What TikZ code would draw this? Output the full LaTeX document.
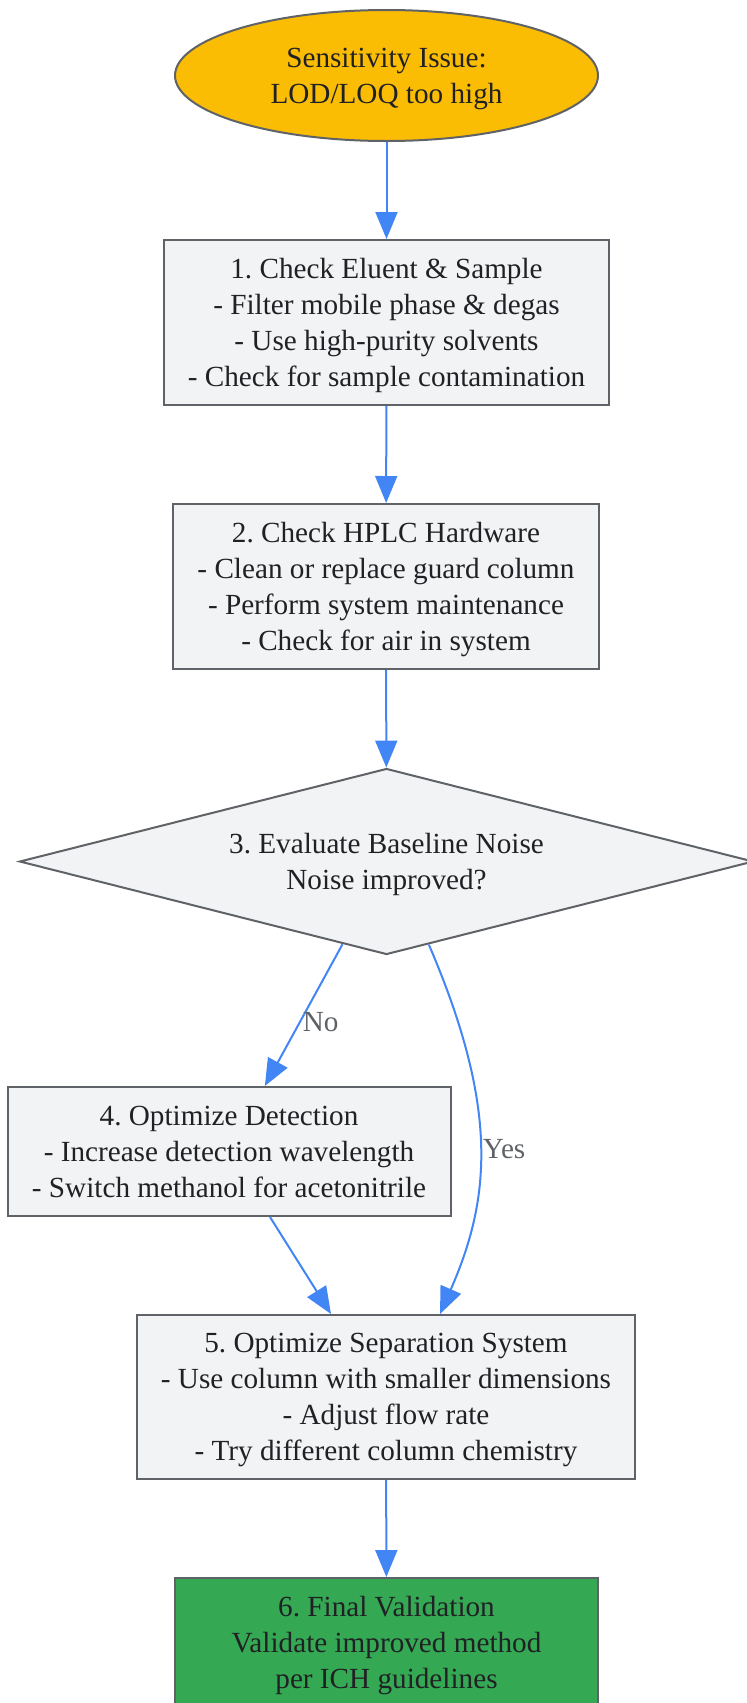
\documentclass[tikz,border=0pt]{standalone}
\usepackage{fontspec}
\setmainfont{Liberation Serif}
\usetikzlibrary{shapes.geometric,arrows.meta}

\definecolor{boxfill}{HTML}{F1F3F4}
\definecolor{linegray}{HTML}{5F6368}
\definecolor{flowblue}{HTML}{4285F4}
\definecolor{issueyellow}{HTML}{FBBC04}
\definecolor{okgreen}{HTML}{34A853}
\definecolor{txtcol}{HTML}{202124}

\begin{document}
\frenchspacing
\begin{tikzpicture}[x=1pt,y=-1pt,
  every node/.style={font=\fontsize{29.2}{36}\selectfont,text=txtcol,align=center},
  stepbox/.style={text depth=0pt,draw=linegray,line width=2pt,fill=boxfill,inner sep=0pt},
  issue/.style={text depth=0pt,ellipse,draw=linegray,line width=2pt,fill=issueyellow,inner sep=0pt},
  decision/.style={text depth=0pt,diamond,aspect=3.95,draw=linegray,line width=2pt,fill=boxfill,inner sep=0pt},
  flow/.style={draw=flowblue,line width=2pt,-{Triangle[length=27pt,width=22pt]}},
  edgelbl/.style={text=linegray,inner sep=2pt}]

\useasboundingbox (0,0) rectangle (747,1703);

% Problema de partida
\node[issue,minimum width=423pt,minimum height=131pt] (issue) at (386.5,75.5)
  {Sensitivity Issue:\\LOD/LOQ too high};

% Passos de verificacao
\node[stepbox,minimum width=445pt,minimum height=165pt] (eluent) at (386.5,322.5)
  {1. Check Eluent \& Sample\\- Filter mobile phase \& degas\\- Use high-purity solvents\\- Check for sample contamination};
\node[stepbox,minimum width=426pt,minimum height=165pt] (hardware) at (386,586.5)
  {2. Check HPLC Hardware\\- Clean or replace guard column\\- Perform system maintenance\\- Check for air in system};

% Decisao
\node[decision,minimum width=734pt,minimum height=186pt] (noise) at (386.5,861.5)
  {3. Evaluate Baseline Noise\\Noise improved?};

% Otimizacao
\node[stepbox,minimum width=443pt,minimum height=129pt] (detect) at (229,1151.5)
  {4. Optimize Detection\\- Increase detection wavelength\\- Switch methanol for acetonitrile};
\node[stepbox,minimum width=498pt,minimum height=164pt] (separ) at (386,1397)
  {5. Optimize Separation System\\- Use column with smaller dimensions\\- Adjust flow rate\\- Try different column chemistry};

% Validacao final
\node[stepbox,fill=okgreen,minimum width=423pt,minimum height=129pt] (valid) at (386.5,1642.5)
  {6. Final Validation\\Validate improved method\\per ICH guidelines};

% Setas
\draw[flow] (issue) -- (eluent);
\draw[flow] (eluent) -- (hardware);
\draw[flow] (hardware) -- (noise);
\draw[flow] (noise.242) -- node[edgelbl,right,pos=0.55] {No} (detect);
\draw[flow] (noise.297) .. controls (500,1110) and (490,1200) .. node[edgelbl,right,pos=0.5] {Yes} ([xshift=54pt]separ.north);
\draw[flow] ([xshift=41pt]detect.south) -- ([xshift=-55pt]separ.north);
\draw[flow] (separ) -- (valid);

\end{tikzpicture}
\end{document}
